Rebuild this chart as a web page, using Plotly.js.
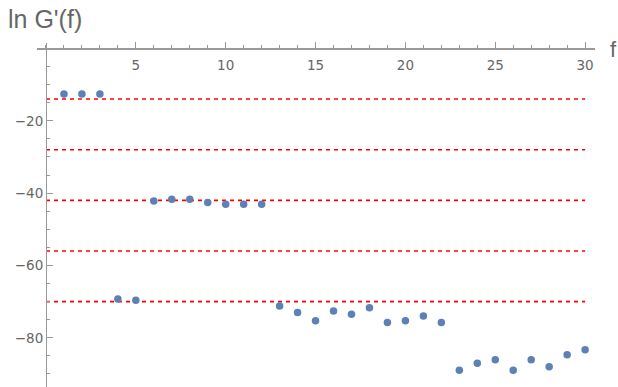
<!DOCTYPE html>
<html>
<head>
<meta charset="utf-8">
<script src="https://cdn.plot.ly/plotly-3.0.1.min.js"></script>
<style>html,body{margin:0;padding:0;background:#fff;}#chart{width:618px;height:387px;}</style>
</head>
<body>
<div id="chart"></div>
<script>
// Data
var f = [1,2,3,4,5,6,7,8,9,10,11,12,13,14,15,16,17,18,19,20,21,22,23,24,25,26,27,28,29,30];
var lnG = [-12.6,-12.6,-12.6,-69.3,-69.6,-42.2,-41.7,-41.7,-42.6,-43.1,-43.1,-43.1,
           -71.2,-73.0,-75.3,-72.6,-73.5,-71.7,-75.8,-75.3,-74.0,-75.8,
           -89.0,-87.0,-86.1,-89.0,-86.1,-88.0,-84.7,-83.3];
var levels = [-14,-28,-42,-56,-70];
var levelSpan = [0,30];
var xTicks = [5,10,15,20,25,30];
var yTicks = [-20,-40,-60,-80];

var xRange = [-0.5, 30.55];
var yRange = [-93.6, 1.5];

var traces = [];
levels.forEach(function(v){
  traces.push({
    x: levelSpan, y: [v, v], mode: 'lines', type: 'scatter',
    line: {color: '#ff0000', width: 1.6, dash: '4px,4px'},
    hoverinfo: 'skip', showlegend: false
  });
});
traces.push({
  x: f, y: lnG, mode: 'markers', type: 'scatter',
  marker: {color: '#5e81b5', size: 7.5},
  showlegend: false
});

var axisColor = '#999999';
var tickFam = '"DejaVu Sans", sans-serif';
var labFam = '"Liberation Sans", Arial, sans-serif';
var layout = {
  width: 618, height: 387,
  margin: {l: 37, r: 23, t: 43, b: 0, pad: 0},
  paper_bgcolor: '#fff', plot_bgcolor: '#fff',
  showlegend: false,
  title: {text: "ln G'(f)", x: 8/618, xanchor: 'left', xref: 'container',
          y: 1 - 19/387, yanchor: 'middle', yref: 'container',
          font: {family: labFam, size: 25, color: '#666'}},
  xaxis: {
    range: xRange, anchor: 'free',
    position: (0 - yRange[0]) / (yRange[1] - yRange[0]),
    showgrid: false, zeroline: false, showline: true, linecolor: axisColor, linewidth: 1.2,
    tickmode: 'array', tickvals: xTicks, ticks: 'inside', ticklen: 6, tickcolor: axisColor, tickwidth: 1,
    ticklabelstandoff: 4,
    minor: {tickmode: 'linear', tick0: 0, dtick: 1, ticks: 'inside', ticklen: 3, tickcolor: axisColor, showgrid: false},
    tickfont: {family: tickFam, size: 13.5, color: '#666'}
  },
  yaxis: {
    range: yRange, anchor: 'free',
    position: (0 - xRange[0]) / (xRange[1] - xRange[0]),
    showgrid: false, zeroline: false, showline: true, linecolor: axisColor, linewidth: 1.4,
    tickmode: 'array', tickvals: yTicks, ticks: 'inside', ticklen: 6, tickcolor: axisColor, tickwidth: 1,
    minor: {tickmode: 'linear', tick0: 0, dtick: 5, ticks: 'inside', ticklen: 3, tickcolor: axisColor, showgrid: false},
    tickfont: {family: tickFam, size: 13.5, color: '#666'}
  },
  annotations: [{
    text: 'f', xref: 'paper', yref: 'y', x: (613 - 37) / 558, y: 0,
    xanchor: 'center', yanchor: 'middle', yshift: -1, showarrow: false,
    font: {family: labFam, size: 22, color: '#666'}
  }]
};

Plotly.newPlot('chart', traces, layout, {staticPlot: true, displayModeBar: false});
</script>
</body>
</html>
